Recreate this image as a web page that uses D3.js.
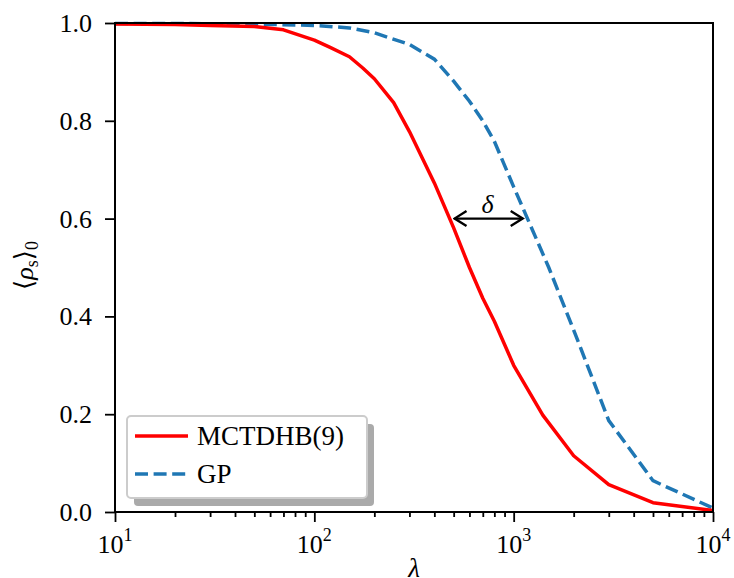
<!DOCTYPE html>
<meta charset="utf-8">
<style>
  body { margin: 0; background: #fff; }
  svg text { font-family: "Liberation Serif", "DejaVu Serif", serif; fill: #000; }
</style>
<svg width="734" height="578"></svg>
<script src="https://cdn.jsdelivr.net/npm/d3@7"></script>
<script>
// lambda sample points and curves
var lamRed = [10, 20, 30, 50, 70, 100, 120, 150, 175, 200, 250, 300, 400, 500, 600, 700, 800, 1000, 1400, 2000, 3000, 5000, 10000];
var rhoRed = [0.998, 0.997, 0.995, 0.993, 0.986, 0.965, 0.95, 0.931, 0.908, 0.886, 0.837, 0.778, 0.673, 0.581, 0.50, 0.437, 0.39, 0.30, 0.198, 0.115, 0.056, 0.019, 0.003];

var lamGP = [10, 20, 50, 100, 150, 200, 300, 400, 500, 600, 700, 800, 1000, 1500, 2000, 3000, 5000, 10000];
var rhoGP = [0.999, 0.999, 0.998, 0.995, 0.99, 0.98, 0.956, 0.926, 0.881, 0.84, 0.80, 0.758, 0.665, 0.50, 0.372, 0.187, 0.064, 0.008];

var xTicks = [10, 100, 1000, 10000];
var xTickExp = ["1", "2", "3", "4"];
var yTicks = [0, 0.2, 0.4, 0.6, 0.8, 1.0];

// the delta arrow: at rho = 0.6 between the two curves
var deltaLevel = 0.6;
var deltaFrom = 505, deltaTo = 1110;

var svg = d3.select("svg"),
    margin = {top: 23, right: 21, bottom: 66, left: 115},
    width = +svg.attr("width"),
    height = +svg.attr("height");

var x = d3.scaleLog()
    .domain([10, 10000])
    .range([margin.left, width - margin.right]);

var y = d3.scaleLinear()
    .domain([0, 1])
    .range([height - margin.bottom, margin.top]);

var line = d3.line()
    .x(function(d) { return x(d[0]); })
    .y(function(d) { return y(d[1]); });

svg.append("clipPath").attr("id", "plotclip")
    .append("rect")
    .attr("x", x(10)).attr("y", y(1) - 3)
    .attr("width", x(10000) - x(10)).attr("height", y(0) - y(1) + 3);

var plot = svg.append("g").attr("clip-path", "url(#plotclip)");

// GP (dashed blue)
plot.append("path")
    .datum(d3.zip(lamGP, rhoGP))
    .attr("d", line)
    .attr("fill", "none")
    .attr("stroke", "#1f77b4")
    .attr("stroke-width", 3.5)
    .attr("stroke-dasharray", "13,5.6");

// MCTDHB(9) (solid red)
plot.append("path")
    .datum(d3.zip(lamRed, rhoRed))
    .attr("d", line)
    .attr("fill", "none")
    .attr("stroke", "#ff0000")
    .attr("stroke-width", 3.5)
    .attr("stroke-linejoin", "round");

// x axis ticks (major + minor)
var minor = [];
for (var e = 1; e < 4; e++) {
    for (var m = 2; m <= 9; m++) minor.push(m * Math.pow(10, e));
}
svg.append("g")
    .attr("transform", "translate(0," + y(0) + ")")
    .call(d3.axisBottom(x).tickValues(xTicks).tickSize(10).tickFormat(""));
svg.append("g")
    .attr("transform", "translate(0," + y(0) + ")")
    .call(d3.axisBottom(x).tickValues(minor).tickSize(5).tickFormat(""));

// y axis
svg.append("g")
    .attr("transform", "translate(" + x(10) + ",0)")
    .call(d3.axisLeft(y).tickValues(yTicks).tickSize(10).tickFormat(""));

svg.selectAll(".domain").remove();
svg.selectAll(".tick line").attr("stroke", "#000").attr("stroke-width", 1.8);

// y tick labels
svg.append("g").selectAll("text")
    .data(yTicks)
    .enter().append("text")
    .attr("x", x(10) - 23)
    .attr("y", function(d) { return y(d) + 9; })
    .attr("text-anchor", "end")
    .style("font-size", "26px")
    .text(function(d) { return d3.format(".1f")(d); });

// x tick labels 10^n
var xl = svg.append("g").selectAll("text")
    .data(xTicks)
    .enter().append("text")
    .attr("x", function(d) { return x(d); })
    .attr("y", y(0) + 41)
    .attr("text-anchor", "middle")
    .style("font-size", "26px");
xl.append("tspan").text("10");
xl.append("tspan")
    .attr("dy", -12)
    .style("font-size", "18px")
    .text(function(d, i) { return xTickExp[i]; });

// frame
svg.append("rect")
    .attr("x", x(10)).attr("y", y(1))
    .attr("width", x(10000) - x(10)).attr("height", y(0) - y(1))
    .attr("fill", "none")
    .attr("stroke", "#000")
    .attr("stroke-width", 2);

// axis labels (lambda sits at the bottom edge, as in the original)
svg.append("text")
    .attr("x", (x(10) + x(10000)) / 2)
    .attr("y", 577)
    .attr("text-anchor", "middle")
    .style("font-size", "27px")
    .style("font-style", "italic")
    .text("λ");

var yl = svg.append("text")
    .attr("transform", "translate(33," + (y(0.5) - 2) + ") rotate(-90)")
    .attr("text-anchor", "middle")
    .style("font-size", "26px");
yl.append("tspan").text("⟨");
yl.append("tspan").style("font-style", "italic").text("ρ");
yl.append("tspan").attr("dy", 5).style("font-size", "18px").text("s");
yl.append("tspan").attr("dy", -5).text("⟩");
yl.append("tspan").attr("dy", 5).style("font-size", "18px").text("0");

// delta arrow
svg.append("defs").selectAll("marker")
    .data(["start", "end"])
    .enter().append("marker")
    .attr("id", function(d) { return "head-" + d; })
    .attr("viewBox", "-14 -10 16 20")
    .attr("markerWidth", 16).attr("markerHeight", 20)
    .attr("markerUnits", "userSpaceOnUse")
    .attr("orient", function(d) { return d == "end" ? "auto" : "auto-start-reverse"; })
    .append("path")
    .attr("d", "M-12,-7.5L0,0L-12,7.5")
    .attr("fill", "none")
    .attr("stroke", "#000")
    .attr("stroke-width", 2.4);

svg.append("line")
    .attr("x1", x(deltaFrom)).attr("x2", x(deltaTo))
    .attr("y1", y(deltaLevel)).attr("y2", y(deltaLevel))
    .attr("stroke", "#000")
    .attr("stroke-width", 2.4)
    .attr("marker-start", "url(#head-start)")
    .attr("marker-end", "url(#head-end)");

svg.append("text")
    .attr("x", (x(deltaFrom) + x(deltaTo)) / 2 - 1)
    .attr("y", y(deltaLevel) - 6)
    .attr("text-anchor", "middle")
    .style("font-size", "26px")
    .style("font-style", "italic")
    .text("δ");

// legend
var lg = svg.append("g").attr("transform", "translate(127,416)");
lg.append("rect")
    .attr("x", 7).attr("y", 8)
    .attr("width", 240).attr("height", 82)
    .attr("rx", 4)
    .attr("fill", "#aaaaaa");
lg.append("rect")
    .attr("x", 0).attr("y", 0)
    .attr("width", 240).attr("height", 82)
    .attr("rx", 4)
    .attr("fill", "#fff")
    .attr("stroke", "#cccccc")
    .attr("stroke-width", 2);

var legendItems = [
    {name: "MCTDHB(9)", color: "#ff0000", dash: null},
    {name: "GP", color: "#1f77b4", dash: "13,5.6"}
];
var li = lg.selectAll(".item")
    .data(legendItems)
    .enter().append("g")
    .attr("transform", function(d, i) { return "translate(0," + (20 + i * 38) + ")"; });
li.append("line")
    .attr("x1", 8).attr("x2", 61)
    .attr("stroke", function(d) { return d.color; })
    .attr("stroke-width", 3.5)
    .attr("stroke-dasharray", function(d) { return d.dash; });
li.append("text")
    .attr("x", 70)
    .attr("y", 9)
    .style("font-size", "27px")
    .text(function(d) { return d.name; });
</script>
